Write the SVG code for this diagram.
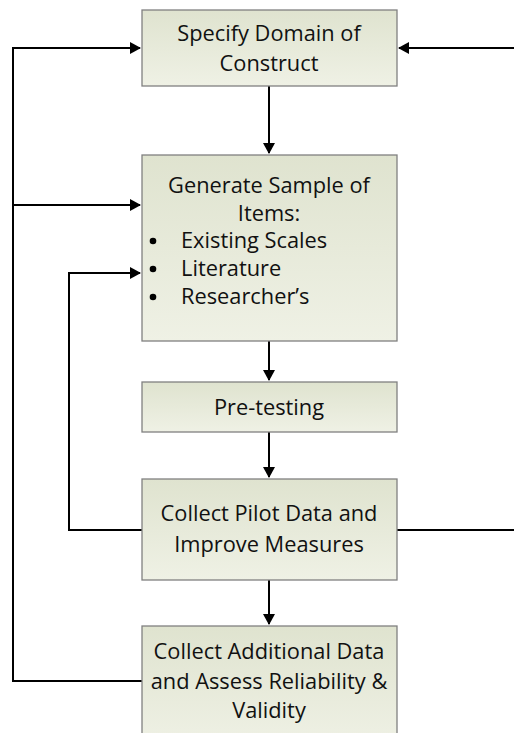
<svg xmlns="http://www.w3.org/2000/svg" width="514" height="733" viewBox="0 0 514 733">
<defs>
<linearGradient id="g" x1="0" y1="0" x2="0" y2="1"><stop offset="0" stop-color="#dfe3cf"/><stop offset="1" stop-color="#eff1e5"/></linearGradient>
<marker id="ah" markerWidth="12" markerHeight="12" refX="10" refY="6" orient="auto" markerUnits="userSpaceOnUse"><path d="M0,0 L11,6 L0,12 Z" fill="#000"/></marker>
<style>
.box{fill:url(#g);stroke:#808080;stroke-width:1.3}
.t{font-family:"Open Sans","Noto Sans",sans-serif;font-size:21.8px;fill:#111}
.c{text-anchor:middle}
.ln{fill:none;stroke:#000;stroke-width:2}
</style>
</defs>
<g id="connectors">
<path class="ln" d="M269,86 V153" marker-end="url(#ah)"/>
<path class="ln" d="M269,341 V380" marker-end="url(#ah)"/>
<path class="ln" d="M269,432 V477" marker-end="url(#ah)"/>
<path class="ln" d="M269,580 V624" marker-end="url(#ah)"/>
<path class="ln" d="M142,681 H13 V48 H140" marker-end="url(#ah)"/>
<path class="ln" d="M13,205 H140" marker-end="url(#ah)"/>
<path class="ln" d="M142,530 H69 V273 H140" marker-end="url(#ah)"/>
<path class="ln" d="M397,530 H514"/>
<path class="ln" d="M514,48 H399" marker-end="url(#ah)"/>
</g>
<g id="n1"><rect class="box" x="142" y="10" width="255" height="76"/>
<text class="t c" x="269" y="41">Specify Domain of</text><text class="t c" x="269" y="71">Construct</text></g>
<g id="n2"><rect class="box" x="142" y="155" width="255" height="186"/>
<text class="t c" x="269" y="193">Generate Sample of</text><text class="t c" x="269" y="221">Items:</text>
<circle cx="153" cy="241" r="3.3" fill="#000"/><text class="t" x="181" y="248">Existing Scales</text>
<circle cx="153" cy="269" r="3.3" fill="#000"/><text class="t" x="181" y="276">Literature</text>
<circle cx="153" cy="297" r="3.3" fill="#000"/><text class="t" x="181" y="304">Researcher’s</text></g>
<g id="n3"><rect class="box" x="142" y="382" width="255" height="50"/>
<text class="t c" x="269" y="415">Pre-testing</text></g>
<g id="n4"><rect class="box" x="142" y="479" width="255" height="101"/>
<text class="t c" x="269" y="521">Collect Pilot Data and</text><text class="t c" x="269" y="552">Improve Measures</text></g>
<g id="n5"><rect class="box" x="142" y="626" width="255" height="120"/>
<text class="t c" x="269" y="659">Collect Additional Data</text><text class="t c" x="269" y="689">and Assess Reliability &amp;</text><text class="t c" x="269" y="718">Validity</text></g>
</svg>
